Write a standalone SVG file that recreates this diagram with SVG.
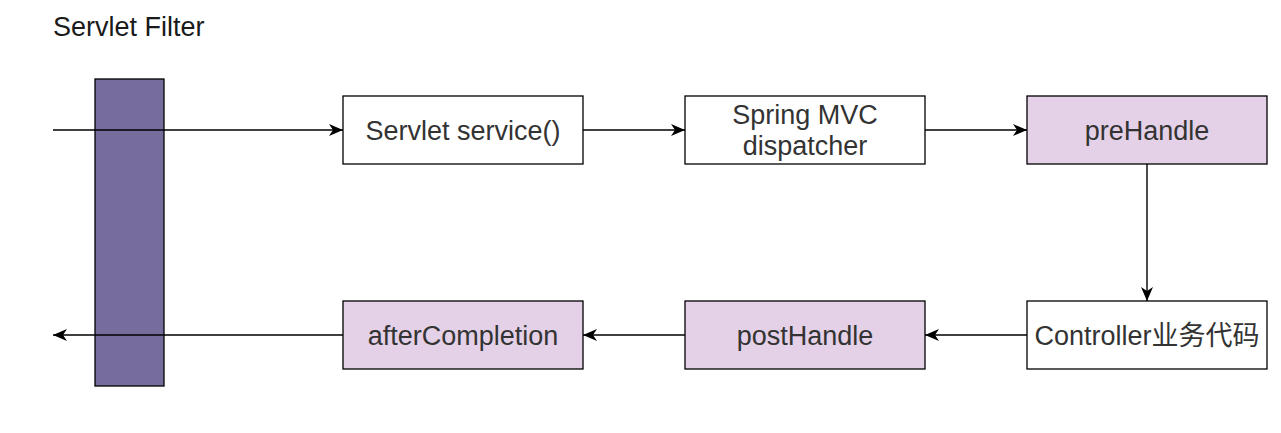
<svg xmlns="http://www.w3.org/2000/svg" width="1281" height="433" viewBox="0 0 1281 433">
<style>
.box{stroke:#000;stroke-width:1.3}
.w{fill:#fff}
.p{fill:#e4d1e7}
.t{font-family:"Liberation Sans",Arial,"Noto Sans CJK SC",sans-serif;font-size:27px;fill:#333;text-anchor:middle}
.c{stroke:#000;stroke-width:1.4;fill:none;marker-end:url(#ah)}
</style>
<defs>
<marker id="ah" viewBox="0 0 14 12" refX="14" refY="6" markerWidth="14" markerHeight="12" markerUnits="userSpaceOnUse" orient="auto">
<path d="M0,0 L14,6 L0,12 L4,6 Z" fill="#000"/>
</marker>
</defs>
<rect width="1281" height="433" fill="#fff"/>
<text x="53" y="36" font-family="Liberation Sans,Arial,sans-serif" font-size="27" fill="#1a1a1a">Servlet Filter</text>
<g id="filter"><rect x="95" y="79" width="69" height="307" fill="#766d9c" class="box"/></g>
<g id="service"><rect x="343" y="96" width="240" height="68" class="box w"/><text x="463" y="139.5" class="t">Servlet service()</text></g>
<g id="dispatcher"><rect x="685" y="96" width="240" height="68" class="box w"/><text x="805" y="124" class="t">Spring MVC</text><text x="805" y="155" class="t">dispatcher</text></g>
<g id="prehandle"><rect x="1027" y="96" width="240" height="68" class="box p"/><text x="1147" y="139.5" class="t">preHandle</text></g>
<g id="controller"><rect x="1027" y="301" width="240" height="68" class="box w"/><text x="1147" y="344.5" class="t">Controller业务代码</text></g>
<g id="posthandle"><rect x="685" y="301" width="240" height="68" class="box p"/><text x="805" y="344.5" class="t">postHandle</text></g>
<g id="aftercompletion"><rect x="343" y="301" width="240" height="68" class="box p"/><text x="463" y="344.5" class="t">afterCompletion</text></g>
<g id="connectors">
<path class="c" d="M53,130 H343"/>
<path class="c" d="M583,130 H685"/>
<path class="c" d="M925,130 H1027"/>
<path class="c" d="M1147,164 V301"/>
<path class="c" d="M1027,335 H925"/>
<path class="c" d="M685,335 H583"/>
<path class="c" d="M343,335 H53"/>
</g>
</svg>
